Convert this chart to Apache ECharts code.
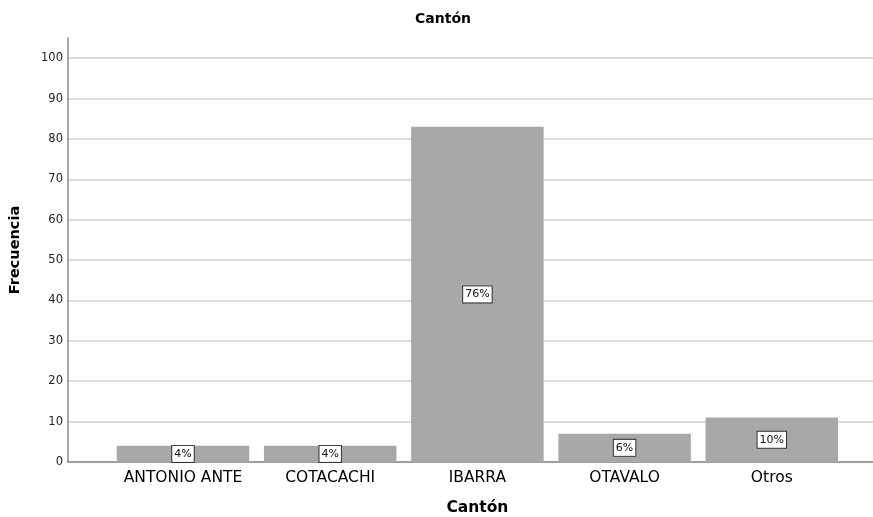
<!DOCTYPE html>
<html>
<head>
<meta charset="utf-8">
<script src="https://cdn.jsdelivr.net/npm/echarts@6/dist/echarts.min.js"></script>
<style>html,body{margin:0;padding:0;background:#fff;}#c{width:873px;height:517px;}</style>
</head>
<body>
<div id="c"></div>
<script>
const categories = ['ANTONIO ANTE', 'COTACACHI', 'IBARRA', 'OTAVALO', 'Otros'];
const frecuencia = [4, 4, 83, 7, 11];
const yTicks = [0, 10, 20, 30, 40, 50, 60, 70, 80, 90, 100];

const total = frecuencia.reduce((a, b) => a + b, 0);
const FONT = 'DejaVu Sans';
const chart = echarts.init(document.getElementById('c'));
chart.setOption({
  backgroundColor: '#ffffff',
  animation: false,
  title: {
    text: 'Cantón', left: 438, top: 7, textAlign: 'center',
    textStyle: { fontFamily: FONT, fontSize: 14, fontWeight: 'bold', color: '#000' }
  },
  grid: [
    { left: 68, right: 0, top: 38, bottom: 55, outerBoundsMode: 'none', containLabel: false },
    { left: 109.4, right: 27.6, top: 38, bottom: 55, outerBoundsMode: 'none', containLabel: false }
  ],
  xAxis: [
    { type: 'value', gridIndex: 0, min: 0, max: 1,
      axisLine: { show: true, lineStyle: { color: '#8a8a8a', width: 1.5 } },
      axisTick: { show: false }, axisLabel: { show: false }, splitLine: { show: false } },
    { type: 'category', gridIndex: 1, data: categories,
      axisLine: { show: false }, axisTick: { show: false },
      axisLabel: { fontFamily: FONT, fontSize: 15.5, color: '#000', margin: 8, interval: 0 },
      name: 'Cantón', nameLocation: 'middle', nameGap: 38,
      nameTextStyle: { fontFamily: FONT, fontSize: 15.5, fontWeight: 'bold', color: '#000' } }
  ],
  yAxis: [
    { type: 'value', gridIndex: 0, min: 0, max: 105, interval: 10,
      axisLine: { show: true, lineStyle: { color: '#8a8a8a', width: 1.5 } },
      axisTick: { show: false },
      axisLabel: { fontFamily: FONT, fontSize: 11.5, color: '#222', margin: 5, showMaxLabel: false,
        formatter: v => yTicks.includes(v) ? String(v) : '' },
      splitLine: { show: true, showMaxLine: false, lineStyle: { color: '#d2d2d2', width: 1.5 } },
      name: 'Frecuencia', nameLocation: 'middle', nameGap: 45,
      nameTextStyle: { fontFamily: FONT, fontSize: 14.5, fontWeight: 'bold', color: '#000' } },
    { type: 'value', gridIndex: 1, min: 0, max: 105, interval: 10, show: false,
      splitLine: { show: false } }
  ],
  series: [{
    type: 'bar', xAxisIndex: 1, yAxisIndex: 1, data: frecuencia,
    barCategoryGap: '10%',
    itemStyle: { color: '#a8a8a8' },
    label: {
      show: true, position: 'inside',
      formatter: p => Math.round(p.value / total * 100) + '%',
      fontFamily: FONT, fontSize: 11, color: '#111',
      backgroundColor: '#fff', borderColor: '#333', borderWidth: 1, padding: [3, 2, 2, 2]
    }
  }]
});
</script>
</body>
</html>
